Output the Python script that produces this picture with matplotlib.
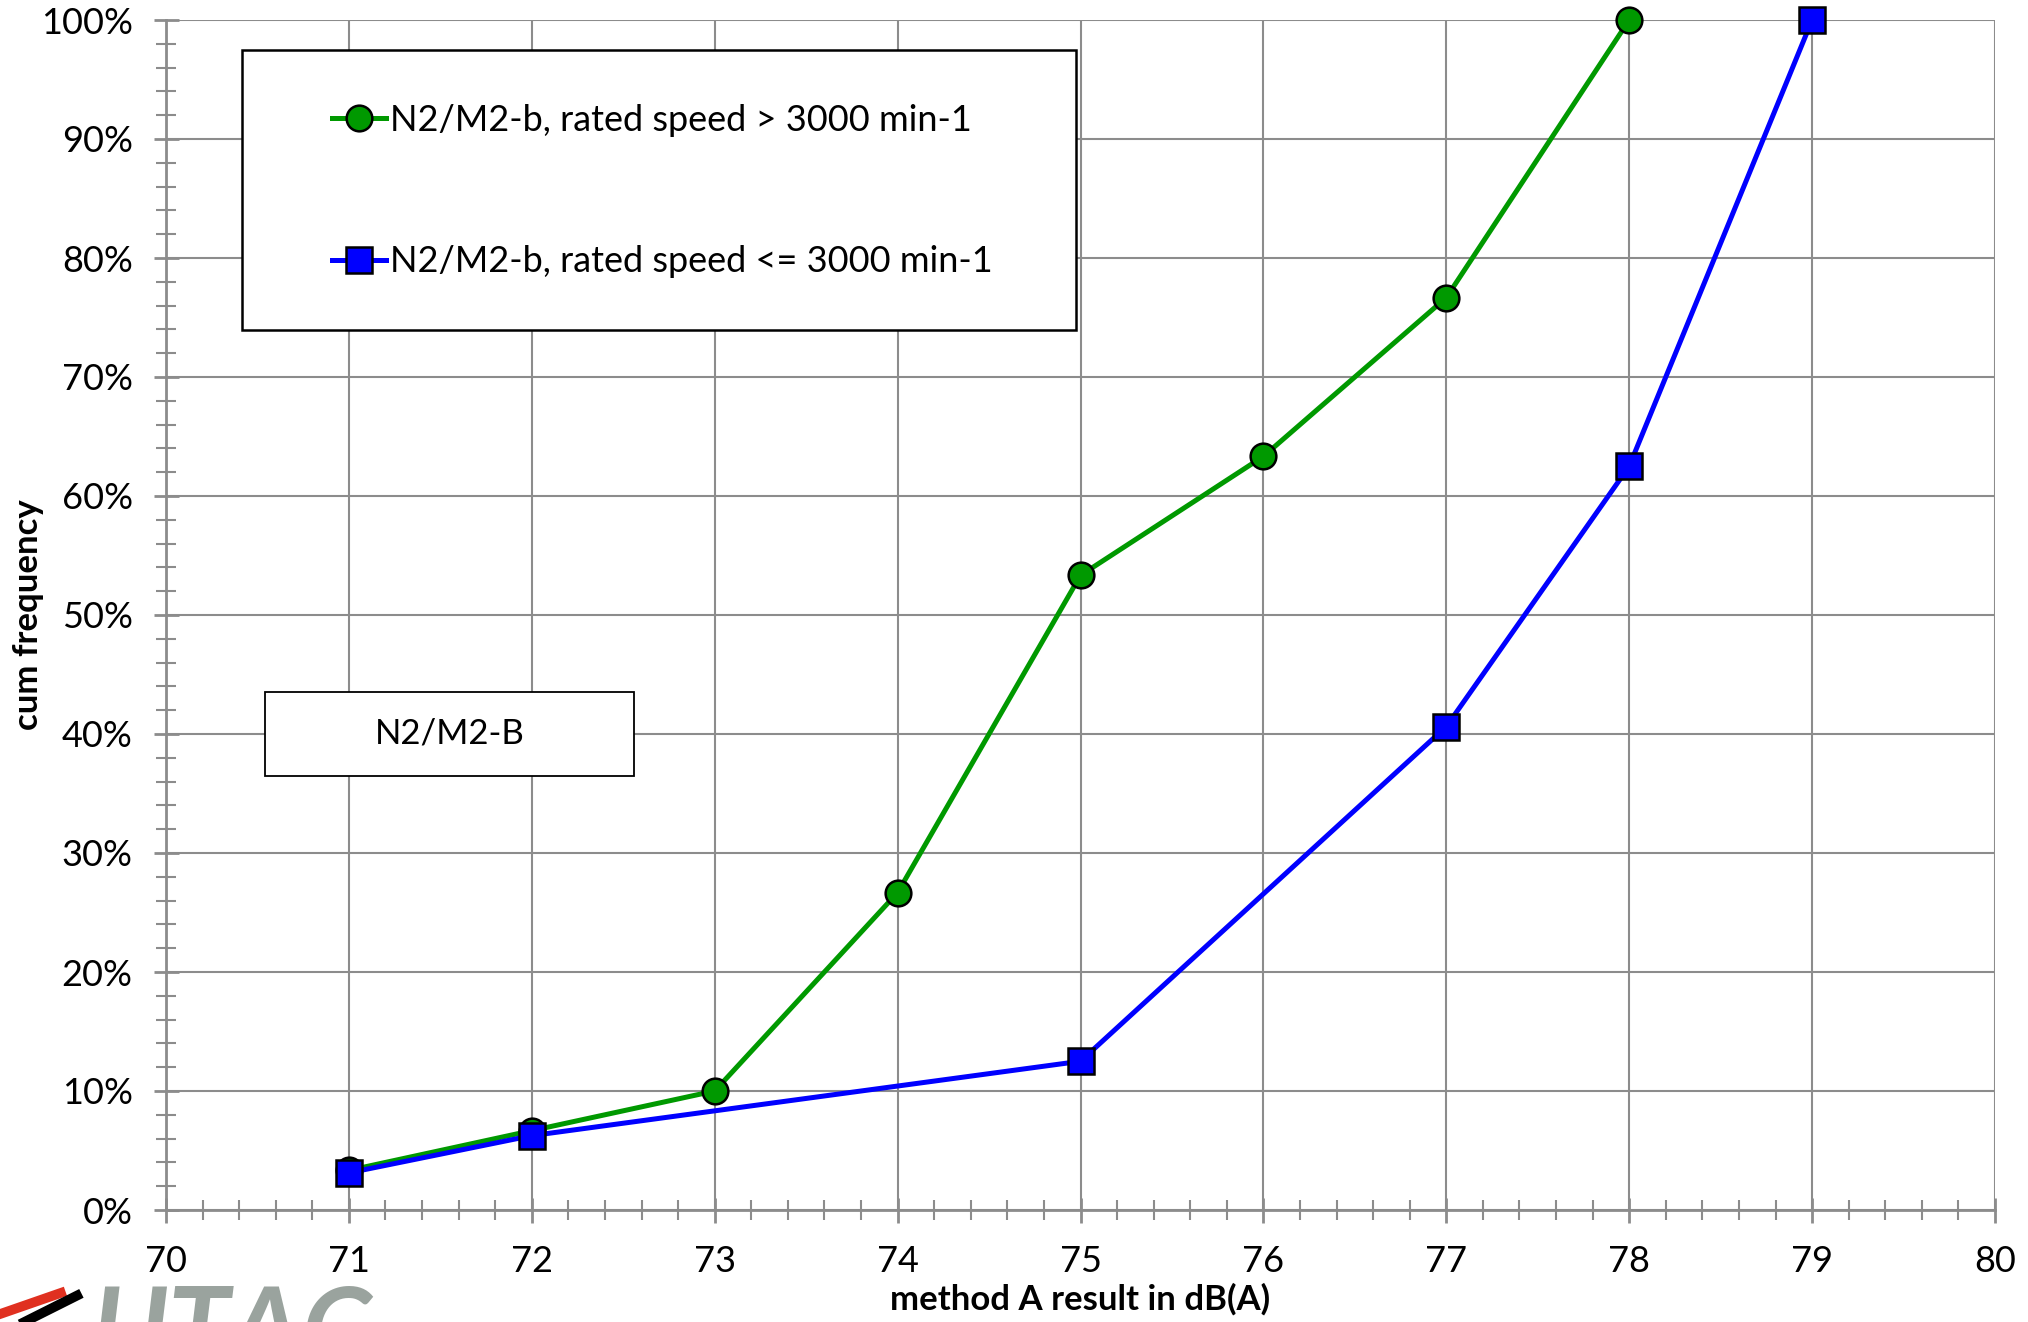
import matplotlib
matplotlib.use('Agg')
import matplotlib.pyplot as plt
from matplotlib.patches import Rectangle
from matplotlib.ticker import MultipleLocator, FuncFormatter

plt.rcParams['font.family'] = ['Lato', 'DejaVu Sans']

# cumulative frequency of method A results, N2/M2-b vehicles
x_fast = [71, 72, 73, 74, 75, 76, 77, 78]
cum_fast = [3.33, 6.67, 10.0, 26.67, 53.33, 63.33, 76.67, 100.0]
x_slow = [71, 72, 75, 77, 78, 79]
cum_slow = [3.125, 6.25, 12.5, 40.625, 62.5, 100.0]

label_fast = 'N2/M2-b, rated speed > 3000 min-1'
label_slow = 'N2/M2-b, rated speed <= 3000 min-1'
gray = '#8c8c8c'

fig = plt.figure(figsize=(20.28, 13.22), dpi=100)
ax = fig.add_axes([166/2028, 1 - 1210/1322, (1995-166)/2028, (1210-20)/1322])

ax.plot(x_fast, cum_fast, color='#009900', lw=3.6, marker='o', ms=18.5,
        mfc='#009900', mec='black', mew=1.8, label=label_fast, zorder=4, clip_on=False)
ax.plot(x_slow, cum_slow, color='#0000ff', lw=3.6, marker='s', ms=18.5,
        mfc='#0000ff', mec='black', mew=1.8, label=label_slow, zorder=5, clip_on=False)

ax.set_xlim(70, 80)
ax.set_ylim(0, 100)
ax.xaxis.set_major_locator(MultipleLocator(1))
ax.xaxis.set_minor_locator(MultipleLocator(0.2))
ax.yaxis.set_major_locator(MultipleLocator(10))
ax.yaxis.set_minor_locator(MultipleLocator(2))
ax.yaxis.set_major_formatter(FuncFormatter(lambda v, p: f'{v:.0f}%'))

ax.grid(True, which='major', color=gray, lw=1.5)
ax.set_axisbelow(True)
for side in ['top', 'right']:
    ax.spines[side].set_visible(False)
for side in ['left', 'bottom']:
    ax.spines[side].set_color(gray)
    ax.spines[side].set_linewidth(2)

ax.tick_params(which='major', direction='inout', length=18, width=2, color=gray,
               labelsize=26, pad=15)
ax.tick_params(which='minor', direction='inout', length=14, width=1.5, color=gray)
ax.tick_params(axis='x', pad=16)

ax.set_xlabel('method A result in dB(A)', fontsize=25, fontweight='bold', labelpad=4)
ax.set_ylabel('cum frequency', fontsize=25, fontweight='bold')
ax.yaxis.set_label_coords((44-166)/1829, 0.5)

# legend frame drawn by hand to match the wide box
ax.add_patch(Rectangle(((242-166)/1829, (1210-330)/1190), (1076-242)/1829, (330-50)/1190,
                       transform=ax.transAxes, fc='white', ec='black', lw=1.8, zorder=6))
leg = ax.legend(loc='upper left', bbox_to_anchor=((332-166)/1829, (1210-104)/1190),
                frameon=False, fontsize=26, handlelength=1.5,
                handletextpad=0.1, labelspacing=3.0, borderpad=0,
                borderaxespad=0)
leg.set_zorder(7)

# N2/M2-B label box
ax.add_patch(Rectangle((70.54, 36.47), 2.02, 7.06, fc='white', ec='black', lw=1.3, zorder=6))
ax.text(71.55, 40.0, 'N2/M2-B', fontsize=25, ha='center', va='center', zorder=7)

# logo at bottom-left (approximation of UTAC logo)
fig.text(0.045, 0.029, 'UTAC', fontsize=80, fontstyle='italic', fontweight='bold',
         color='#9aa39e', ha='left', va='top')
fig.add_artist(plt.Line2D([0.0, 0.03], [0.006, 0.022], color='#e03020', lw=7))
fig.add_artist(plt.Line2D([0.012, 0.038], [0.0, 0.02], color='black', lw=7))

fig.savefig('out.png', dpi=100, facecolor='white')
